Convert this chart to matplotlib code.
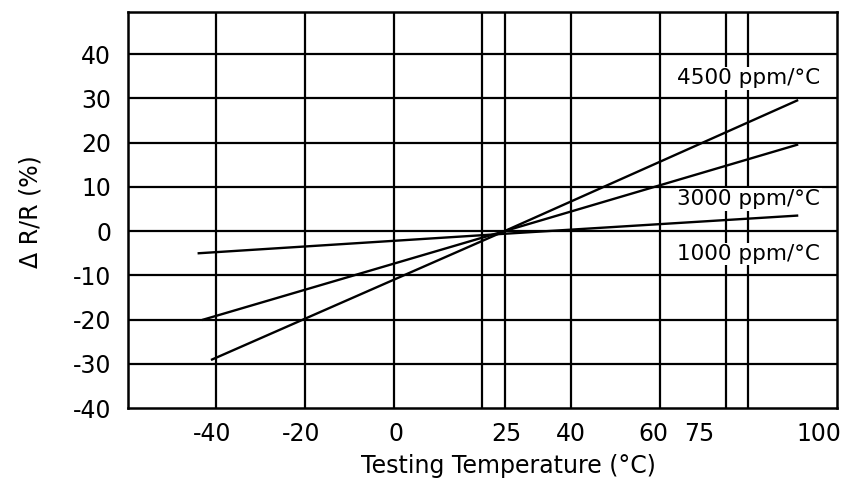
import numpy as np
import matplotlib.pyplot as plt

# Temperature coefficient lines, end points (temp C, dR/R %)
temp_4500 = [-41, 25, 91]
drr_4500 = [-29, 0, 29.5]
temp_3000 = [-43, 25, 91]
drr_3000 = [-20, 0, 19.5]
temp_1000 = [-44, 25, 91]
drr_1000 = [-5, -0.6, 3.5]

line_labels = ['4500 ppm/°C', '3000 ppm/°C', '1000 ppm/°C']
label_y = [34.5, 7.2, -5.2]

# grid lines as printed on the sheet
x_grid = [-40, -20, 0, 20, 25, 40, 60, 75, 80]
y_grid = [-30, -20, -10, 0, 10, 20, 30, 40]

# tick labels (placed where they are printed)
x_tick_pos = [-41, -21, 0.5, 25.5, 40, 58.5, 69, 96]
x_tick_lab = ['-40', '-20', '0', '25', '40', '60', '75', '100']
y_tick_pos = [-40, -30, -20, -10, 0, 10, 20, 30, 40]
y_tick_lab = ['-40', '-30', '-20', '-10', '0', '10', '20', '30', '40']

plt.rcParams['font.family'] = ['DejaVu Sans']

fig = plt.figure(figsize=(8.58, 4.78), dpi=100)
ax = fig.add_axes([0.149, 0.146, 0.8265, 0.829])

for x in x_grid:
    ax.axvline(x, color='black', lw=1.6, zorder=1)
for y in y_grid:
    ax.axhline(y, color='black', lw=1.6, zorder=1)

ax.plot(temp_4500, drr_4500, color='black', lw=1.7, zorder=3)
ax.plot(temp_3000, drr_3000, color='black', lw=1.7, zorder=3)
ax.plot(temp_1000, drr_1000, color='black', lw=1.7, zorder=3)

for lab, y in zip(line_labels, label_y):
    ax.text(64, y, lab, fontsize=15.5, ha='left', va='center', zorder=2,
            bbox=dict(facecolor='white', edgecolor='none', pad=1.0))

ax.set_xlim(-60, 100)
ax.set_ylim(-40, 49.5)

ax.set_xticks(x_tick_pos)
ax.set_xticklabels(x_tick_lab, fontsize=17)
ax.set_yticks(y_tick_pos)
ax.set_yticklabels(y_tick_lab, fontsize=17)
ax.tick_params(axis='x', length=0, pad=10)
ax.tick_params(axis='y', length=0, pad=12)

for s in ax.spines.values():
    s.set_linewidth(1.8)

ax.set_xlabel('Testing Temperature (°C)', fontsize=17)
ax.set_ylabel('Δ R/R (%)', fontsize=17)
ax.xaxis.set_label_coords(0.536, -0.115)
ax.yaxis.set_label_coords(-0.12, 0.495)

fig.savefig('out.png', dpi=100)
